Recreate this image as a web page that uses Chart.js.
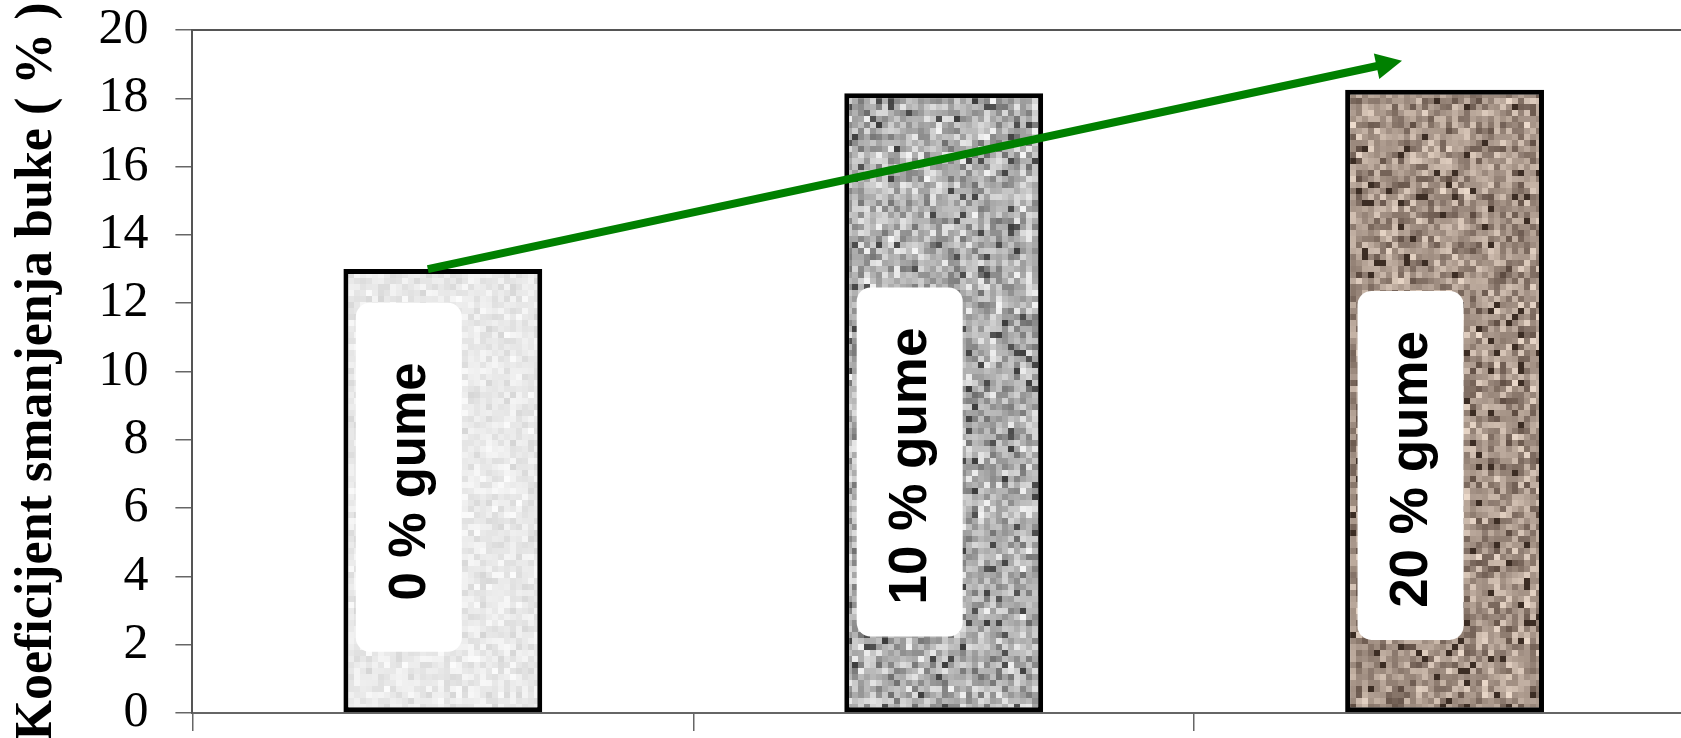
<!DOCTYPE html>
<html>
<head>
<meta charset="utf-8">
<script src="https://cdn.jsdelivr.net/npm/chart.js@4.4.1/dist/chart.umd.min.js"></script>
<style>
  html, body { margin: 0; padding: 0; background: #fff; overflow: hidden; }
  #wrap { margin-top: -22px; }
</style>
</head>
<body>
<div id="wrap"><canvas id="chart" width="1700" height="787"></canvas></div>
<script>
// data
const categories = ['0 % gume', '10 % gume', '20 % gume'];
const noiseReduction = [13.0, 18.15, 18.25];
const yTickValues = [0, 2, 4, 6, 8, 10, 12, 14, 16, 18, 20];
const yTitle = 'Koeficijent smanjenja buke ( % )';
// trend arrow, in (category index, value)
const arrowFrom = [-0.03, 13.0];
const arrowTo = [1.915, 19.1];

// seeded noise so the bar textures look the same every run
const mulberry = (seed) => () => {
    seed |= 0; seed = seed + 0x6D2B79F5 | 0;
    let t = Math.imul(seed ^ seed >>> 15, 1 | seed);
    t = t + Math.imul(t ^ t >>> 7, 61 | t) ^ t;
    return ((t ^ t >>> 14) >>> 0) / 4294967296;
};

const makeTexture = (seed, colorFn) => {
    const rnd = mulberry(seed);
    const c = document.createElement('canvas');
    c.width = 222; c.height = 792;
    const g = c.getContext('2d');
    const cell = 6;
    for (let y = 0; y < c.height; y += cell) {
        for (let x = 0; x < c.width; x += cell) {
            g.fillStyle = colorFn(rnd);
            g.fillRect(x, y, cell, cell);
        }
    }
    return g.createPattern(c, 'repeat');
};

const grayFn = (lo, span, darkChance, darkVal) => (rnd) => {
    let v = lo + (rnd() + rnd()) / 2 * span;
    if (rnd() < darkChance) v = darkVal + rnd() * 25;
    v = Math.round(v);
    return `rgb(${v},${v},${v})`;
};

const brownFn = (rnd) => {
    let t = (rnd() + rnd()) / 2;
    let r = 90 + t * 150, g = 72 + t * 150, b = 62 + t * 145;
    if (rnd() < 0.06) { r = 60; g = 45; b = 36; }
    return `rgb(${Math.round(r)},${Math.round(g)},${Math.round(b)})`;
};

const textures = [
    makeTexture(11, grayFn(212, 42, 0.0, 0)),
    makeTexture(23, grayFn(105, 145, 0.06, 60)),
    makeTexture(37, brownFn)
];

const labelBoxes = {
    id: 'labelBoxes',
    afterDatasetsDraw(chart) {
        const ctx = chart.ctx;
        const y = chart.scales.y;
        const centers = [6.9, 7.35, 7.25];
        const sizes = [51, 53, 53];
        chart.getDatasetMeta(0).data.forEach((bar, i) => {
            const cx = bar.x - 34;
            const cy = y.getPixelForValue(centers[i]);
            const w = 106, h = 349;
            ctx.save();
            ctx.fillStyle = '#fff';
            ctx.beginPath();
            ctx.roundRect(cx - w / 2, cy - h / 2, w, h, 14);
            ctx.fill();
            ctx.translate(cx, cy + 4);
            ctx.rotate(-Math.PI / 2);
            ctx.fillStyle = '#000';
            ctx.font = `bold ${sizes[i]}px "Liberation Sans", Arial, sans-serif`;
            ctx.textAlign = 'center';
            ctx.textBaseline = 'middle';
            ctx.fillText(categories[i], 0, 2);
            ctx.restore();
        });
    }
};

const trendArrow = {
    id: 'trendArrow',
    afterDatasetsDraw(chart) {
        const ctx = chart.ctx;
        const {x, y} = chart.scales;
        const x1 = x.getPixelForValue(arrowFrom[0]), y1 = y.getPixelForValue(arrowFrom[1]);
        const x2 = x.getPixelForValue(arrowTo[0]), y2 = y.getPixelForValue(arrowTo[1]);
        const ang = Math.atan2(y2 - y1, x2 - x1);
        const headLen = 26, headHalf = 13;
        const bx = x2 - headLen * Math.cos(ang), by = y2 - headLen * Math.sin(ang);
        ctx.save();
        ctx.strokeStyle = '#008000';
        ctx.fillStyle = '#008000';
        ctx.lineWidth = 8;
        ctx.beginPath();
        ctx.moveTo(x1, y1);
        ctx.lineTo(bx + 2 * Math.cos(ang), by + 2 * Math.sin(ang));
        ctx.stroke();
        ctx.beginPath();
        ctx.moveTo(x2, y2);
        ctx.lineTo(bx + headHalf * Math.sin(ang), by - headHalf * Math.cos(ang));
        ctx.lineTo(bx - headHalf * Math.sin(ang), by + headHalf * Math.cos(ang));
        ctx.closePath();
        ctx.fill();
        ctx.restore();
    }
};

const topLine = {
    id: 'topLine',
    beforeDatasetsDraw(chart) {
        const ctx = chart.ctx;
        const a = chart.chartArea;
        ctx.save();
        ctx.strokeStyle = '#555';
        ctx.lineWidth = 2;
        ctx.beginPath();
        ctx.moveTo(a.left, a.top);
        ctx.lineTo(chart.width, a.top);
        ctx.stroke();
        ctx.restore();
    }
};

new Chart(document.getElementById('chart'), {
    type: 'bar',
    data: {
        labels: categories,
        datasets: [{
            data: noiseReduction,
            backgroundColor: textures,
            borderColor: '#000',
            borderWidth: 5,
            borderSkipped: false,
            barPercentage: 0.397,
            categoryPercentage: 1
        }]
    },
    options: {
        responsive: false,
        animation: false,
        layout: { padding: { left: -2, top: 5, right: 5, bottom: 0 } },
        plugins: { legend: { display: false }, tooltip: { enabled: false } },
        scales: {
            x: {
                ticks: { display: false },
                grid: { drawOnChartArea: false, tickLength: 18, color: '#666', lineWidth: 1.5, offset: true },
                border: { color: '#666', width: 2 }
            },
            y: {
                min: 0,
                max: 20,
                afterBuildTicks: (axis) => { axis.ticks = yTickValues.map(v => ({ value: v })); },
                ticks: {
                    color: '#000',
                    padding: 27,
                    font: { family: '"Liberation Serif", "Times New Roman", serif', size: 50, lineHeight: 1 }
                },
                grid: { drawOnChartArea: false, tickLength: 17, color: '#666', lineWidth: 1.5 },
                border: { color: '#555', width: 2 },
                title: {
                    display: true,
                    text: yTitle,
                    color: '#000',
                    font: { family: '"Liberation Serif", "Times New Roman", serif', size: 52, weight: 'bold', lineHeight: 1.2 },
                    padding: { top: 8, bottom: 3 }
                }
            }
        }
    },
    plugins: [topLine, labelBoxes, trendArrow]
});
</script>
</body>
</html>
